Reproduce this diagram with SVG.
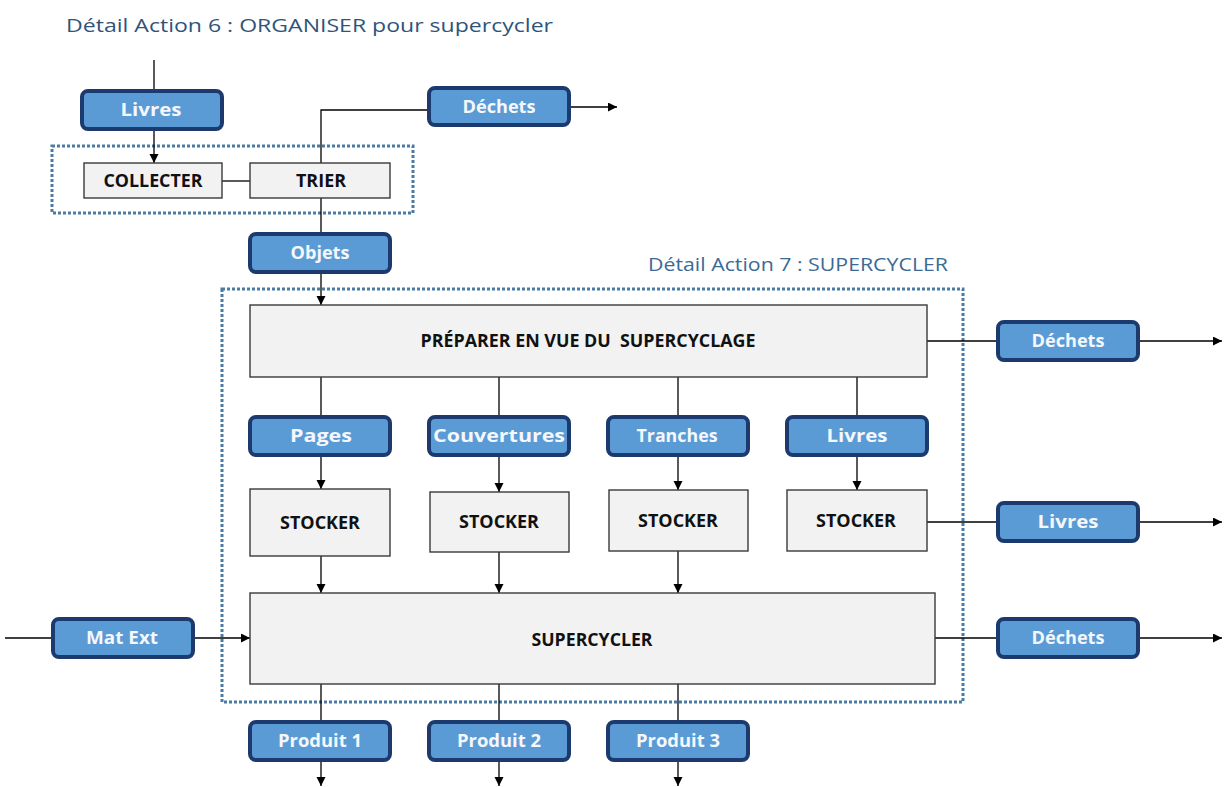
<svg xmlns="http://www.w3.org/2000/svg" width="1227" height="787" viewBox="0 0 1227 787">
<style>
.title{font-family:"Open Sans","Noto Sans",sans-serif;font-size:19px;}
.lbl rect{fill:#5b9bd5;stroke:#1c3a6e;stroke-width:4;}
.lbl text{font-family:"Open Sans","Noto Sans",sans-serif;font-weight:bold;font-size:17px;fill:#f4f7fb;text-anchor:middle;}
.proc rect{fill:#f2f2f2;stroke:#3a3a3a;stroke-width:1.4;}
.proc text{font-family:"Open Sans","Noto Sans",sans-serif;font-weight:bold;font-size:17px;fill:#111;text-anchor:middle;}
.cont{fill:none;stroke:#4a7aa6;stroke-width:3;stroke-dasharray:3 2;}
.conn path{fill:none;stroke:#000;stroke-width:1.3;}
.conn path.a{marker-end:url(#arr);}
</style>
<defs>
<marker id="arr" markerUnits="userSpaceOnUse" markerWidth="10" markerHeight="10" refX="9" refY="4.5" orient="auto">
<path d="M0,0 L9,4.5 L0,9 z" fill="#000"/>
</marker>
</defs>
<rect width="1227" height="787" fill="#fff"/>

<text class="title" x="66" y="32" fill="#2f5479" textLength="487" lengthAdjust="spacingAndGlyphs">Détail Action 6 : ORGANISER pour supercycler</text>
<text class="title" x="648" y="271" fill="#3a6a96" textLength="300" lengthAdjust="spacingAndGlyphs">Détail Action 7 : SUPERCYCLER</text>

<rect id="cont6" class="cont" x="52" y="146" width="361" height="67"/>
<rect id="cont7" class="cont" x="222" y="289" width="741" height="413"/>

<g class="conn" id="connectors">
<path d="M154,60 V92"/>
<path class="a" d="M154,129 V163"/>
<path d="M222,181 H250"/>
<path d="M321,163 V110 H429"/>
<path class="a" d="M569,107 H617"/>
<path d="M321,198 V234"/>
<path class="a" d="M321,272 V305"/>
<path d="M927,341 H998"/>
<path class="a" d="M1138,341 H1222"/>
<path d="M321,377 V417"/>
<path d="M499,377 V417"/>
<path d="M678,377 V417"/>
<path d="M857,377 V417"/>
<path class="a" d="M321,455 V489"/>
<path class="a" d="M499,455 V492"/>
<path class="a" d="M678,455 V490"/>
<path class="a" d="M857,455 V490"/>
<path d="M927,522 H998"/>
<path class="a" d="M1138,522 H1222"/>
<path class="a" d="M321,556 V593"/>
<path class="a" d="M499,552 V593"/>
<path class="a" d="M678,551 V593"/>
<path d="M5,638 H53"/>
<path class="a" d="M193,638 H250"/>
<path d="M935,638 H998"/>
<path class="a" d="M1138,638 H1222"/>
<path d="M321,684 V722"/>
<path d="M499,684 V722"/>
<path d="M678,684 V722"/>
<path class="a" d="M321,760 V786"/>
<path class="a" d="M499,760 V786"/>
<path class="a" d="M678,760 V786"/>
</g>

<g id="livres1" class="lbl"><rect x="82" y="91" width="140" height="38" rx="6"/><text x="151" y="116" textLength="61" lengthAdjust="spacingAndGlyphs">Livres</text></g>
<g id="collecter" class="proc"><rect x="84" y="163" width="138" height="35"/><text x="153" y="187" textLength="99" lengthAdjust="spacingAndGlyphs">COLLECTER</text></g>
<g id="trier" class="proc"><rect x="250" y="163" width="140" height="35"/><text x="321" y="187" textLength="50" lengthAdjust="spacingAndGlyphs">TRIER</text></g>
<g id="dechets1" class="lbl"><rect x="429" y="88" width="140" height="37" rx="6"/><text x="499" y="112.5" textLength="73" lengthAdjust="spacingAndGlyphs">Déchets</text></g>
<g id="objets" class="lbl"><rect x="250" y="234" width="140" height="38" rx="6"/><text x="320" y="258.5" textLength="59" lengthAdjust="spacingAndGlyphs">Objets</text></g>

<g id="preparer" class="proc"><rect x="250" y="305" width="677" height="72"/><text x="588" y="347" textLength="335" lengthAdjust="spacingAndGlyphs" xml:space="preserve">PRÉPARER EN VUE DU  SUPERCYCLAGE</text></g>
<g id="dechets2" class="lbl"><rect x="998" y="322" width="140" height="38" rx="6"/><text x="1068" y="347" textLength="73" lengthAdjust="spacingAndGlyphs">Déchets</text></g>

<g id="pages" class="lbl"><rect x="250" y="417" width="140" height="38" rx="6"/><text x="321" y="442" textLength="62" lengthAdjust="spacingAndGlyphs">Pages</text></g>
<g id="couvertures" class="lbl"><rect x="429" y="417" width="140" height="38" rx="6"/><text x="499" y="442" textLength="132" lengthAdjust="spacingAndGlyphs">Couvertures</text></g>
<g id="tranches" class="lbl"><rect x="608" y="417" width="140" height="38" rx="6"/><text x="677" y="442" textLength="81" lengthAdjust="spacingAndGlyphs">Tranches</text></g>
<g id="livres2" class="lbl"><rect x="787" y="417" width="140" height="38" rx="6"/><text x="857" y="442" textLength="61" lengthAdjust="spacingAndGlyphs">Livres</text></g>

<g id="stocker1" class="proc"><rect x="250" y="489" width="140" height="67"/><text x="320" y="529" textLength="80" lengthAdjust="spacingAndGlyphs">STOCKER</text></g>
<g id="stocker2" class="proc"><rect x="430" y="492" width="139" height="60"/><text x="499" y="528" textLength="80" lengthAdjust="spacingAndGlyphs">STOCKER</text></g>
<g id="stocker3" class="proc"><rect x="609" y="490" width="139" height="61"/><text x="678" y="527" textLength="80" lengthAdjust="spacingAndGlyphs">STOCKER</text></g>
<g id="stocker4" class="proc"><rect x="787" y="490" width="140" height="61"/><text x="856" y="527" textLength="80" lengthAdjust="spacingAndGlyphs">STOCKER</text></g>
<g id="livres3" class="lbl"><rect x="998" y="503" width="140" height="38" rx="6"/><text x="1068" y="528" textLength="61" lengthAdjust="spacingAndGlyphs">Livres</text></g>

<g id="supercycler" class="proc"><rect x="250" y="593" width="685" height="91"/><text x="592" y="645.5" textLength="121" lengthAdjust="spacingAndGlyphs">SUPERCYCLER</text></g>
<g id="matext" class="lbl"><rect x="53" y="619" width="140" height="38" rx="6"/><text x="122" y="644" textLength="72" lengthAdjust="spacingAndGlyphs">Mat Ext</text></g>
<g id="dechets3" class="lbl"><rect x="998" y="619" width="140" height="38" rx="6"/><text x="1068" y="644" textLength="73" lengthAdjust="spacingAndGlyphs">Déchets</text></g>

<g id="produit1" class="lbl"><rect x="250" y="722" width="140" height="38" rx="6"/><text x="320" y="747" textLength="84" lengthAdjust="spacingAndGlyphs">Produit 1</text></g>
<g id="produit2" class="lbl"><rect x="429" y="722" width="140" height="38" rx="6"/><text x="499" y="747" textLength="84" lengthAdjust="spacingAndGlyphs">Produit 2</text></g>
<g id="produit3" class="lbl"><rect x="608" y="722" width="140" height="38" rx="6"/><text x="678" y="747" textLength="84" lengthAdjust="spacingAndGlyphs">Produit 3</text></g>
</svg>
